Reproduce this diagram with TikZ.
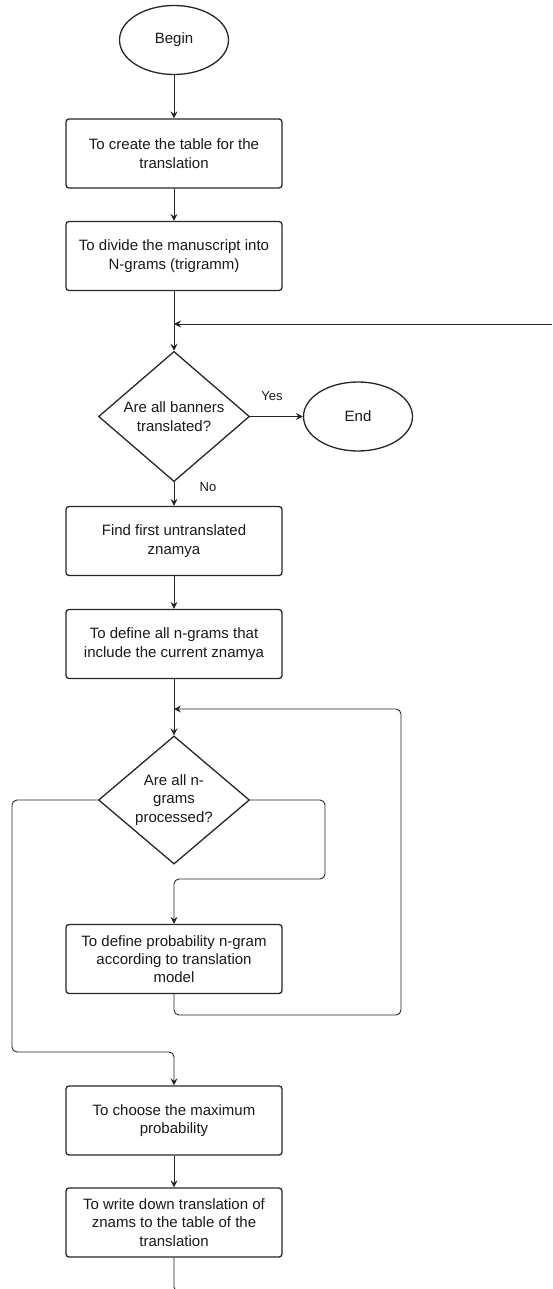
\documentclass[tikz,border=0pt]{standalone}
\usepackage{fontspec}
\setmainfont{Liberation Sans}
\usetikzlibrary{positioning,shapes.geometric,arrows.meta}
\tikzset{
    box text/.style={font=\fontsize{15}{18.3}\selectfont, text=black!90},
    process/.style={rectangle, draw=black!85, line width=1.3pt, rounded corners=3pt, minimum width=216pt, minimum height=69pt, align=center, box text},
    decision/.style={diamond, draw=black!85, line width=1.3pt, inner sep=0pt, minimum width=151pt, minimum height=113pt, align=center, box text},
    terminal/.style={ellipse, draw=black!85, line width=1.3pt, minimum width=109pt, minimum height=69pt, box text},
    flow/.style={draw=black!85, line width=0.9pt, -{Stealth[length=7pt,width=7pt,inset=2.5pt]}},
    plain flow/.style={draw=black!85, line width=0.9pt},
    branch label/.style={font=\fontsize{13}{15}\selectfont, text=black!90}
}

\begin{document}
\begin{tikzpicture}[x=1pt, y=-1pt]
    \useasboundingbox (0,0) rectangle (552,1289);

    \node[terminal] (begin) at (174,40) {Begin};
    \node[process] (create) at (174,153.5) {To create the table for the\\translation};
    \node[process] (divide) at (174,256) {To divide the manuscript into\\N-grams (trigramm)};
    \node[decision] (banners) at (174,416.5) {Are all banners\\translated?};
    \node[terminal] (end) at (358,416.5) {End};
    \node[process] (find) at (174,541) {Find first untranslated\\znamya};
    \node[process] (ngrams) at (174,644) {To define all n-grams that\\include the current znamya};
    \node[decision] (processed) at (174,800) {Are all n-\\grams\\processed?};
    \node[process] (prob) at (174,959) {To define probability n-gram\\according to translation\\model};
    \node[process] (choose) at (174,1120.5) {To choose the maximum\\probability};
    \node[process] (write) at (174,1222.5) {To write down translation of\\znams to the table of the\\translation};

    \node[branch label] (yes) at (272,396) {Yes};
    \node[branch label] (no) at (208,487) {No};

    \coordinate (join1) at (174,324);
    \coordinate (back1) at (552,324);
    \coordinate (join2) at (174,709);
    \coordinate (tail) at (190,1292);

    \draw[flow] (begin) -- (create);
    \draw[flow] (create) -- (divide);
    \draw[flow] (divide) -- (banners);
    \draw[flow] (back1) -- (join1);
    \draw[flow] (banners) -- (end);
    \draw[flow] (banners) -- (find);
    \draw[flow] (find) -- (ngrams);
    \draw[flow] (ngrams) -- (processed);
    \draw[flow, rounded corners=5pt] (processed.east) -| (325,879) -| (prob.north);
    \draw[flow, rounded corners=5pt] (processed.west) -| (12,1052) -| (choose.north);
    \draw[flow, rounded corners=5pt] (prob.south) |- (401,1015) |- (join2);
    \draw[flow] (choose) -- (write);
    \draw[plain flow, rounded corners=5pt] (write) |- (tail);
\end{tikzpicture}
\end{document}
